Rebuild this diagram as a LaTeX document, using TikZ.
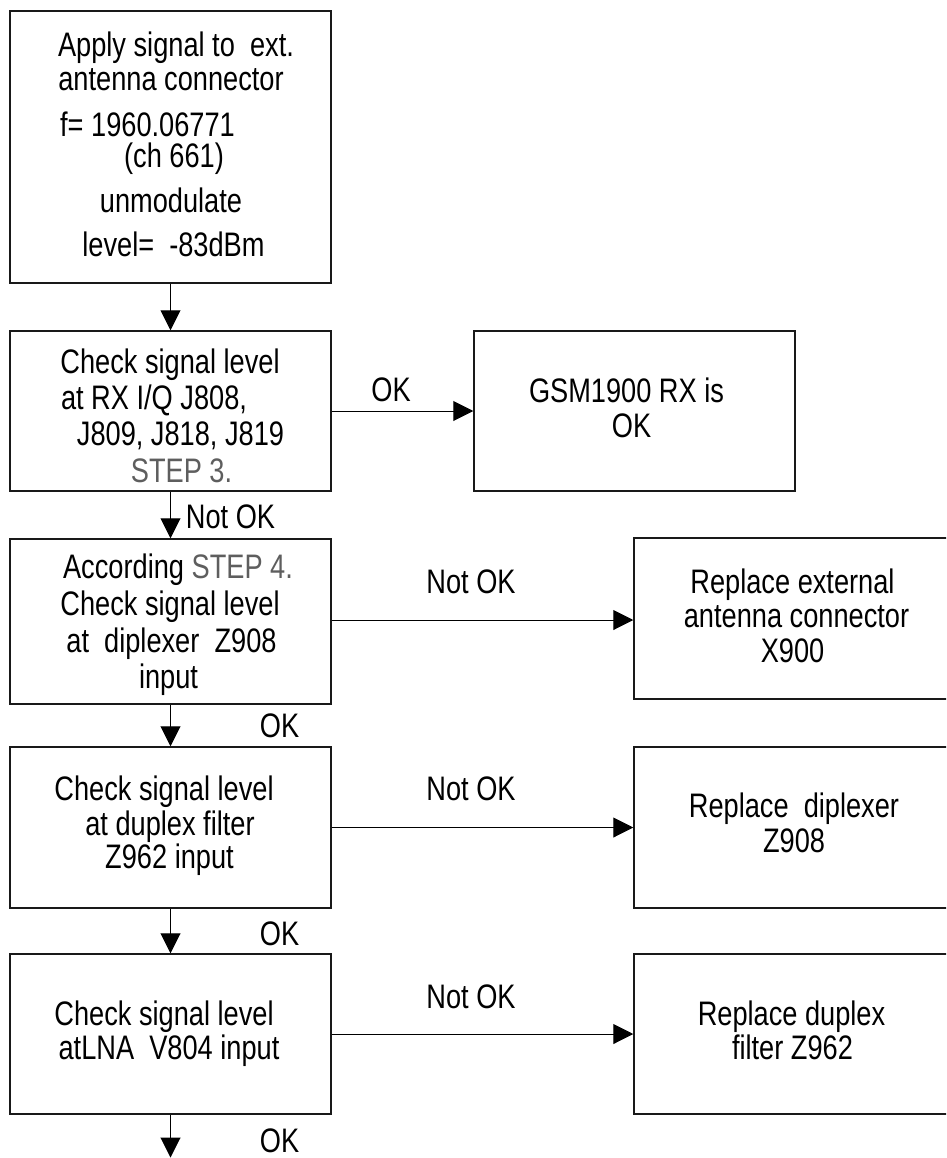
\documentclass[tikz,border=0pt]{standalone}
\usepackage{fontspec}
\setmainfont{Liberation Sans}[FakeStretch=0.80]
\usetikzlibrary{arrows.meta}
\definecolor{stepgray}{HTML}{5E5E5E}
\tikzset{
  box/.style={draw=black!90, line width=1.5pt, rectangle, minimum width=321pt, inner sep=0pt},
  txt/.style={inner sep=0pt, anchor=base, font=\fontsize{34}{37}\selectfont},
  link/.style={line width=1pt, -{Triangle[length=20pt,width=20pt]}},
}
\newcommand{\stepref}[1]{\textcolor{stepgray}{#1}}
\begin{document}
\begin{tikzpicture}[x=1pt, y=-1pt]
\useasboundingbox (0,0) rectangle (946,1158);
\clip (0,0) rectangle (946,1158);

% boxes
\node[box, minimum height=272pt] (b1) at (170.5,147) {};
\node[box, minimum height=160pt] (b2) at (170.5,411) {};
\node[box, minimum height=160pt] (b3) at (634.5,411) {};
\node[box, minimum height=165pt] (b4) at (170.5,621.5) {};
\node[box, minimum height=161pt] (b5) at (794.5,618.5) {};
\node[box, minimum height=161pt] (b6) at (170.5,827.5) {};
\node[box, minimum height=161pt] (b7) at (794.5,827.5) {};
\node[box, minimum height=160pt] (b8) at (170.5,1034) {};
\node[box, minimum height=160pt] (b9) at (794.5,1034) {};

% box texts
\node[txt] (t1a) at (176,57) {Apply signal to\ \ ext.};
\node[txt] (t1b) at (171,91) {antenna connector};
\node[txt] (t1c) at (147.5,137) {f= 1960.06771};
\node[txt] (t1d) at (174,168) {(ch 661)};
\node[txt] (t1e) at (171,213) {unmodulate};
\node[txt] (t1f) at (173.5,256) {level=\ \ -83dBm};

\node[txt] (t2a) at (170,373) {Check signal level};
\node[txt] (t2b) at (154,409) {at RX I/Q J808,};
\node[txt] (t2c) at (180.5,445) {J809, J818, J819};
\node[txt] (t2d) at (181.5,482) {\stepref{STEP 3.}};

\node[txt] (t3a) at (626.5,402) {GSM1900 RX is};
\node[txt] (t3b) at (631.5,437) {OK};

\node[txt] (t4a) at (178,578) {According \stepref{STEP 4.}};
\node[txt] (t4b) at (170,615) {Check signal level};
\node[txt] (t4c) at (171.5,652) {at\ \ diplexer\ \ Z908};
\node[txt] (t4d) at (168.5,688) {input};

\node[txt] (t5a) at (792.5,593) {Replace external};
\node[txt] (t5b) at (796.5,627) {antenna connector};
\node[txt] (t5c) at (792.5,662) {X900};

\node[txt] (t6a) at (164,800) {Check signal level};
\node[txt] (t6b) at (170,835) {at duplex filter};
\node[txt] (t6c) at (169.5,868) {Z962 input};

\node[txt] (t7a) at (794,817) {Replace\ \ diplexer};
\node[txt] (t7b) at (794,852) {Z908};

\node[txt] (t8a) at (164,1025) {Check signal level};
\node[txt] (t8b) at (169,1059) {atLNA\ \ V804 input};

\node[txt] (t9a) at (791.5,1025) {Replace duplex};
\node[txt] (t9b) at (792.5,1059) {filter Z962};

% connector labels
\node[txt] (l23) at (391,401) {OK};
\node[txt] (l24) at (230.5,528) {Not OK};
\node[txt] (l45) at (471,593) {Not OK};
\node[txt] (l46) at (279.5,737) {OK};
\node[txt] (l67) at (471,800) {Not OK};
\node[txt] (l68) at (279.5,945) {OK};
\node[txt] (l89) at (471,1008) {Not OK};
\node[txt] (lend) at (279.5,1152) {OK};

% connectors
\coordinate (end) at (170.5,1157.5);
\coordinate (a45) at ([yshift=1.5pt]b4.east);
\draw[link] (b1.south) -- (b2.north);
\draw[link] (b2.east) -- (b3.west);
\draw[link] (b2.south) -- (b4.north);
\draw[link] (a45) -- (a45 -| b5.west);
\draw[link] (b4.south) -- (b6.north);
\draw[link] (b6.east) -- (b7.west);
\draw[link] (b6.south) -- (b8.north);
\draw[link] (b8.east) -- (b9.west);
\draw[link] (b8.south) -- (end);
\end{tikzpicture}
\end{document}
